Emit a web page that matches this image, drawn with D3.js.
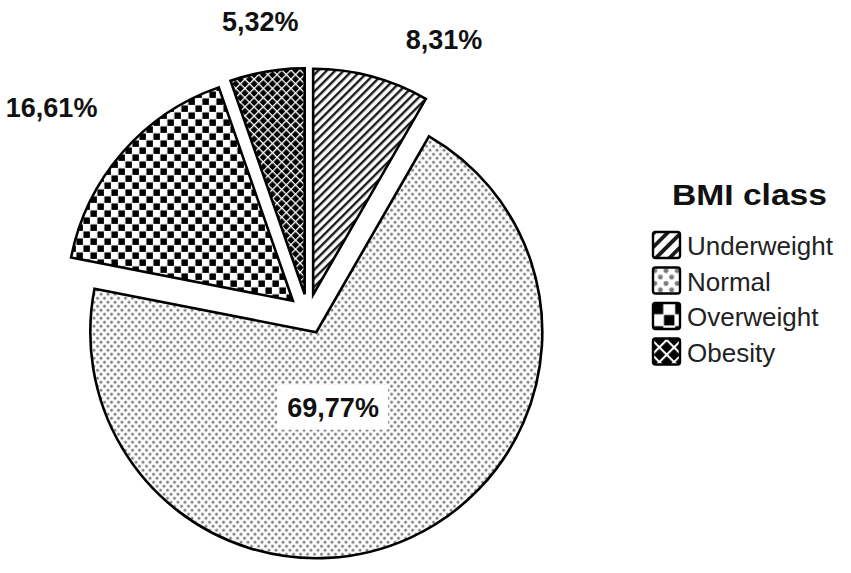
<!DOCTYPE html>
<html lang="en">
<head>
<meta charset="utf-8">
<title>BMI class</title>
<script src="https://cdn.jsdelivr.net/npm/d3@7"></script>
<style>
  body { margin: 0; background: #fff; }
  text { font-family: "Liberation Sans", Arial, sans-serif; }
</style>
</head>
<body>
<script>
// chart data
var categories = ["Underweight", "Normal", "Overweight", "Obesity"];
var shares = [8.31, 69.77, 16.61, 5.32];
var shareLabels = ["8,31%", "69,77%", "16,61%", "5,32%"];
var patternIds = ["stripe", "dots", "checker", "lattice"];

var width = 851, height = 573;
var cx = 308, cy = 314, radius = 226, explode = 20;

// label placement: angle (deg from 12 o'clock) and distance from pie centre
var labelPlace = {
  Underweight: [26.4, 306],
  Normal: [165, 97],
  Overweight: [-51.2, 329],
  Obesity: [-9.3, 296]
};

var svg = d3.select("body").append("svg")
  .attr("width", width)
  .attr("height", height);

var defs = svg.append("defs");

// fill patterns, one maker per style so legend can use a bigger copy
function make_patterns(suffix, k) {
  var p;
  p = defs.append("pattern").attr("id", "stripe" + suffix)
    .attr("patternUnits", "userSpaceOnUse")
    .attr("width", 6).attr("height", 6)
    .attr("patternTransform", "rotate(45) scale(" + k + ")");
  p.append("rect").attr("width", 6).attr("height", 6).attr("fill", "#fff");
  p.append("rect").attr("x", 0).attr("width", 2.4).attr("height", 6).attr("fill", "#1a1a1a");

  p = defs.append("pattern").attr("id", "dots" + suffix)
    .attr("patternUnits", "userSpaceOnUse")
    .attr("width", 7).attr("height", 8)
    .attr("patternTransform", "scale(" + k + ")");
  p.append("rect").attr("width", 7).attr("height", 8).attr("fill", "#fff");
  p.append("circle").attr("cx", 1.75).attr("cy", 2).attr("r", 1.5).attr("fill", "#7a7a7a");
  p.append("circle").attr("cx", 5.25).attr("cy", 6).attr("r", 1.5).attr("fill", "#7a7a7a");

  p = defs.append("pattern").attr("id", "checker" + suffix)
    .attr("patternUnits", "userSpaceOnUse")
    .attr("width", 14).attr("height", 14)
    .attr("patternTransform", "scale(" + k + ")");
  p.append("rect").attr("width", 14).attr("height", 14).attr("fill", "#fff");
  p.append("rect").attr("x", 0.5).attr("y", 0.5).attr("width", 6.5).attr("height", 6.5).attr("fill", "#000");
  p.append("rect").attr("x", 7.5).attr("y", 7.5).attr("width", 6.5).attr("height", 6.5).attr("fill", "#000");

  p = defs.append("pattern").attr("id", "lattice" + suffix)
    .attr("patternUnits", "userSpaceOnUse")
    .attr("width", 6.5).attr("height", 6.5)
    .attr("patternTransform", "rotate(45) scale(" + k + ")");
  p.append("rect").attr("width", 6.5).attr("height", 6.5).attr("fill", "#000");
  p.append("rect").attr("x", 0).attr("width", 1.3).attr("height", 6.5).attr("fill", "#fff");
  p.append("rect").attr("y", 0).attr("width", 6.5).attr("height", 1.3).attr("fill", "#fff");
}
make_patterns("", 1);
make_patterns("-lg", 1.6);

var rows = categories.map(function(c, i) {
  return { name: c, value: shares[i], label: shareLabels[i], pat: patternIds[i] };
});

var pie = d3.pie().sort(null).value(function(d) { return d.value; });
var arc = d3.arc().innerRadius(0).outerRadius(radius);
var arcs = pie(rows);

var g = svg.append("g").attr("transform", "translate(" + cx + "," + cy + ")");

// exploded slices
g.selectAll("path.slice")
  .data(arcs)
  .enter().append("path")
  .attr("class", "slice")
  .attr("d", arc)
  .attr("transform", function(d) {
    var m = (d.startAngle + d.endAngle) / 2;
    return "translate(" + (Math.sin(m) * explode) + "," + (-Math.cos(m) * explode) + ")";
  })
  .attr("fill", function(d) { return "url(#" + d.data.pat + ")"; })
  .attr("stroke", "#000")
  .attr("stroke-width", 2.6)
  .attr("stroke-linejoin", "miter");

// percentage labels
var labs = g.selectAll("g.lab")
  .data(arcs)
  .enter().append("g")
  .attr("class", "lab")
  .attr("transform", function(d) {
    var lp = labelPlace[d.data.name];
    var a = lp[0] * Math.PI / 180;
    return "translate(" + (Math.sin(a) * lp[1]) + "," + (-Math.cos(a) * lp[1]) + ")";
  });

labs.filter(function(d) { return d.data.name === "Normal"; })
  .append("rect")
  .attr("x", -56).attr("y", -23)
  .attr("width", 111).attr("height", 45)
  .attr("fill", "#fff");

labs.append("text")
  .attr("text-anchor", "middle")
  .attr("y", 9.5)
  .attr("font-size", 27)
  .attr("font-weight", "bold")
  .attr("fill", "#111")
  .text(function(d) { return d.data.label; });

// legend
var legend = svg.append("g").attr("transform", "translate(652,0)");

legend.append("text")
  .attr("x", 20).attr("y", 205)
  .attr("font-size", 30)
  .attr("font-weight", "bold")
  .attr("textLength", 155)
  .attr("lengthAdjust", "spacingAndGlyphs")
  .attr("fill", "#111")
  .text("BMI class");

var item = legend.selectAll("g.item")
  .data(rows)
  .enter().append("g")
  .attr("class", "item")
  .attr("transform", function(d, i) { return "translate(0," + (232 + i * 35.5) + ")"; });

item.append("rect")
  .attr("x", 1).attr("y", 0)
  .attr("width", 27).attr("height", 26)
  .attr("rx", 2.5)
  .attr("fill", function(d) { return "url(#" + d.pat + "-lg)"; })
  .attr("stroke", "#000")
  .attr("stroke-width", 2.4);

item.append("text")
  .attr("x", 35).attr("y", 23)
  .attr("font-size", 26)
  .attr("fill", "#222")
  .text(function(d) { return d.name; });
</script>
</body>
</html>
